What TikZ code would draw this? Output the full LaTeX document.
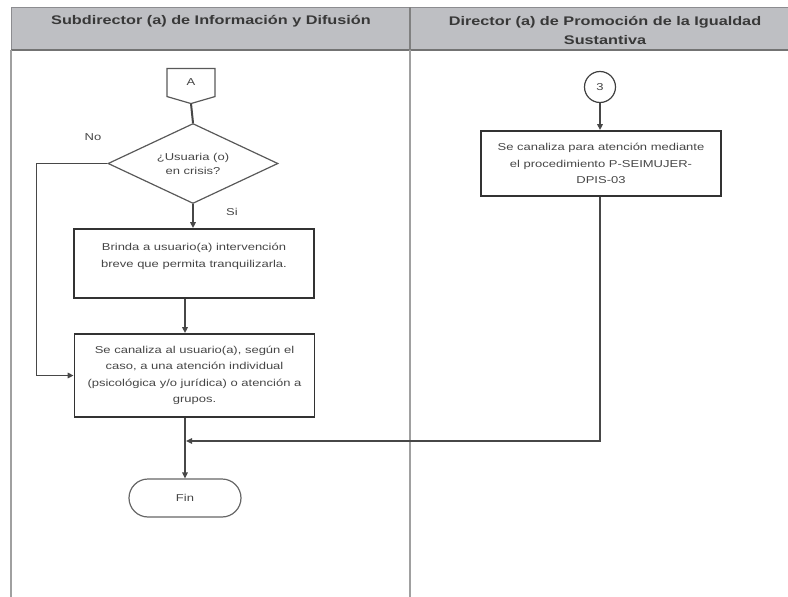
\documentclass[tikz,border=0pt]{standalone}
\usepackage{fontspec}
\setmainfont[FakeStretch=1.3]{Liberation Sans}
\usetikzlibrary{shapes.geometric,shapes.misc,arrows.meta,calc}
\definecolor{hdrfill}{RGB}{190,191,195}
\definecolor{hdrline}{RGB}{140,140,144}
\definecolor{laneline}{RGB}{160,160,160}
\definecolor{boxline}{RGB}{50,50,50}
\definecolor{txt}{RGB}{70,70,70}
\begin{document}
\begin{tikzpicture}[x=1pt,y=-1pt,
  hdrtext/.style={font=\fontsize{12.5}{19}\selectfont\bfseries, text=black!78, align=center, inner sep=0},
  btext/.style={font=\fontsize{10}{16.5}\selectfont, text=txt, align=center},
  box/.style={draw=boxline, line width=1.8pt, rectangle, inner sep=0, btext},
  decbox/.style={draw=black!65, line width=1.2pt, diamond, aspect=2, inner sep=0, font=\fontsize{10}{14}\selectfont, text=txt, align=center},
  conn/.style={draw=black!72, line width=1.4pt},
  arr/.style={conn, -{Triangle[length=6pt,width=5.5pt]}},
  lbl/.style={font=\fontsize{10}{12}\selectfont, text=txt, inner sep=0}
]
\useasboundingbox (0,0) rectangle (788,597);
% header
\fill[hdrfill] (11,7) rectangle (788,50);
\draw[hdrline, line width=1pt] (788,7) -- (11,7) -- (11,50);
\draw[black!55, line width=1.6pt] (11,50) -- (788,50);
\draw[black!50, line width=1.6pt] (410,7) -- (410,50);
% lane lines
\draw[laneline, line width=1.8pt] (11,50) -- (11,597);
\draw[laneline, line width=1.8pt] (410,50) -- (410,597);
\node[hdrtext] (h1) at (211,21) {Subdirector (a) de Información y Difusión};
\node[hdrtext] (h2) at (605,30) {Director (a) de Promoción de la Igualdad\\Sustantiva};

% left lane
\node[draw=black!70, line width=1.1pt, rectangle, draw=none, minimum width=47pt, minimum height=27pt, inner sep=0, font=\fontsize{10}{12}\selectfont, text=txt] (A) at (191,82.5) {A};
\coordinate (Ap) at ($(A.south)+(0,7)$);
\draw[black!65, line width=1.2pt] (A.north west) -- (A.north east) -- (A.south east) -- (Ap) -- (A.south west) -- cycle;

\node[decbox, minimum width=170pt, minimum height=80pt] (d) at (193,163.5) {¿Usuaria (o)\\en crisis?};
\node[lbl] (no) at (93,137) {No};
\node[lbl] (si) at (232,212) {Si};

\node[box, minimum width=240pt, minimum height=69pt] (b1) at (194,263.5) {Brinda a usuario(a) intervención\\breve que permita tranquilizarla.\\\mbox{}};
\node[box, minimum width=240pt, minimum height=83pt] (b2) at (194.5,375.5) {Se canaliza al usuario(a), según el\\caso, a una atención individual\\(psicológica y/o jurídica) o atención a\\grupos.};
\node[draw=black!60, line width=1.2pt, rounded rectangle, minimum width=112pt, minimum height=38pt, inner sep=0, font=\fontsize{10}{12}\selectfont, text=txt] (fin) at (185,498) {Fin};

% right lane
\node[draw=black!75, line width=1.2pt, circle, minimum size=31pt, inner sep=0, font=\fontsize{10}{12}\selectfont, text=txt] (c3) at (600,87) {3};
\node[box, minimum width=240pt, minimum height=65pt] (b3) at (601,163.5) {Se canaliza para atención mediante\\el procedimiento P-SEIMUJER-\\DPIS-03};
\coordinate (m) at (186,441);

% connectors
\draw[conn, line width=2pt] (Ap) -- (d.north);
\draw[arr] (d.south) -- (d.south |- b1.north);
\draw[arr] (b1.south -| fin.north) -- (b2.north -| fin.north);
\draw[conn, line width=1.8pt] (d.west) -- ++(-71,0) coordinate (nc);
\draw[arr] (nc) |- (b2.west);
\draw[arr] (b2.south -| fin.north) -- (fin.north);
\draw[arr] (c3.south) -- (c3.south |- b3.north);
\draw[arr] (c3.south |- b3.south) |- (m);
\end{tikzpicture}
\end{document}
